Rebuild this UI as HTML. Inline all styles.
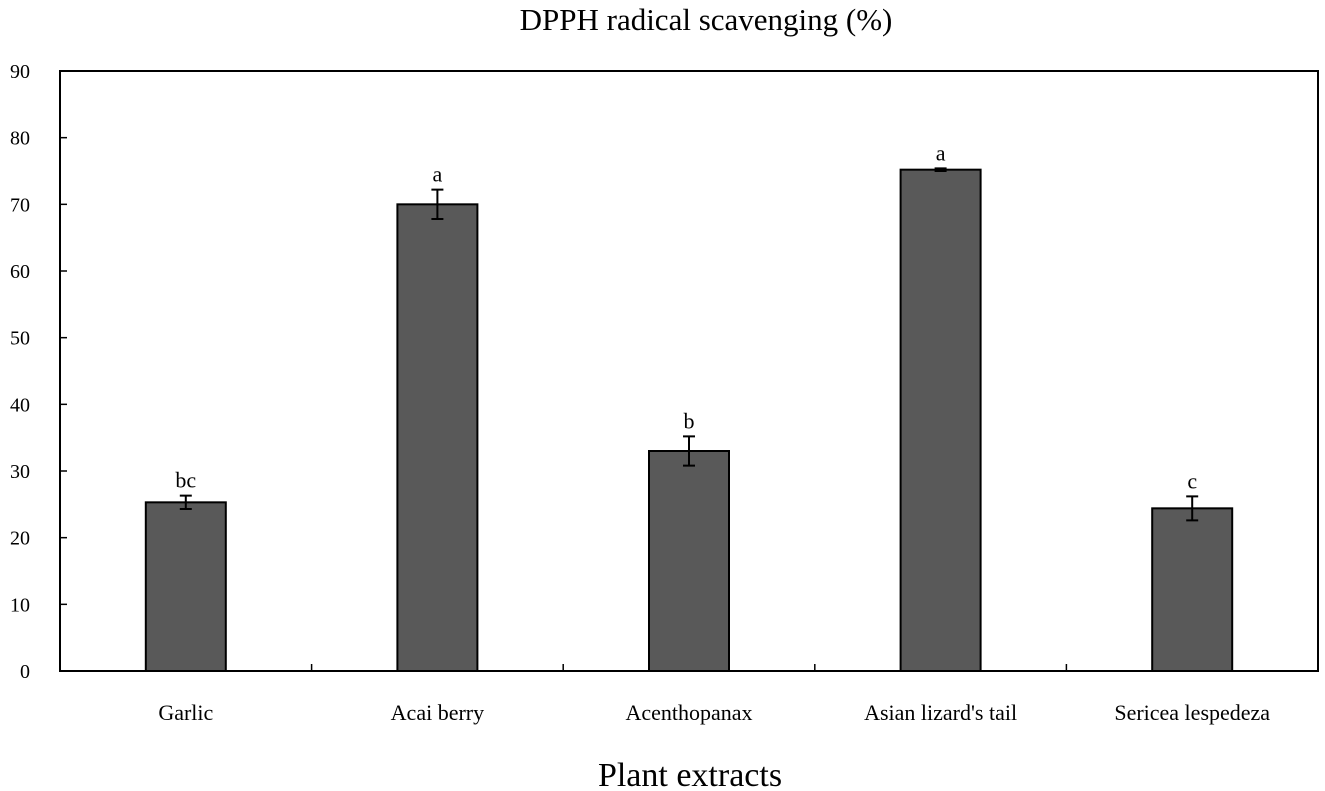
<!DOCTYPE html>
<html><head><meta charset="utf-8"><style>
html,body{margin:0;padding:0;background:#fff;}
svg{display:block;font-family:"Liberation Serif",serif;}
</style></head><body>
<svg id="chart" width="1325" height="791">
<text x="706" y="30" font-size="31" text-anchor="middle" fill="#000">DPPH radical scavenging (%)</text>
<text x="690" y="786" font-size="34" text-anchor="middle" fill="#000">Plant extracts</text>
<g id="plot"></g>
</svg>
<script>
const categories = ["Garlic","Acai berry","Acenthopanax","Asian lizard's tail","Sericea lespedeza"];
const values = [25.3, 70.0, 33.0, 75.2, 24.4];
const errors = [1.0, 2.2, 2.2, 0.2, 1.8];
const letters = ["bc","a","b","a","c"];
const yTicks = [0,10,20,30,40,50,60,70,80,90];

const L=60, R=1318, T=71, B=671, YMAX=90;
const ns="http://www.w3.org/2000/svg";
const g=document.getElementById('plot');
const y=v=>B-(v/YMAX)*(B-T);
const band=(R-L)/categories.length;
const xc=i=>L+band*(i+0.5);
function mk(tag,attrs,parent){const e=document.createElementNS(ns,tag);for(const k in attrs)e.setAttribute(k,attrs[k]);(parent||g).appendChild(e);return e;}

const frame=mk('rect',{x:L,y:T,width:R-L,height:B-T,fill:'none',stroke:'#000','stroke-width':2});



yTicks.forEach(t=>{
  const ln=mk('line',{x1:L,x2:L+7,y1:y(t),y2:y(t),stroke:'#000','stroke-width':1.5});
  
  
  const tx=mk('text',{x:L-30,y:y(t)+7,'font-size':20,'text-anchor':'end'});
  tx.textContent=t;
  
  
});
for(let i=1;i<categories.length;i++){
  const xx=L+band*i;
  const ln=mk('line',{x1:xx,x2:xx,y1:B,y2:B-7,stroke:'#000','stroke-width':1.5});
  
  
}
const BW=80;
categories.forEach((c,i)=>{
  const cx=xc(i);
  const bar=mk('rect',{x:cx-BW/2,y:y(values[i]),width:BW,height:B-y(values[i]),fill:'#595959',stroke:'#000','stroke-width':2});
  
  
  const hi=y(values[i]+errors[i]), lo=y(values[i]-errors[i]);
  const eg=mk('path',{d:`M${cx},${hi}V${lo}M${cx-6},${hi}H${cx+6}M${cx-6},${lo}H${cx+6}`,stroke:'#000','stroke-width':2,fill:'none'});
  
  
  const lt=mk('text',{x:cx,y:hi-8,'font-size':22,'text-anchor':'middle'});
  lt.textContent=letters[i];
  
  
  const cl=mk('text',{x:cx,y:720,'font-size':22,'text-anchor':'middle'});
  cl.textContent=c;
  
  
});
</script>
</body></html>
